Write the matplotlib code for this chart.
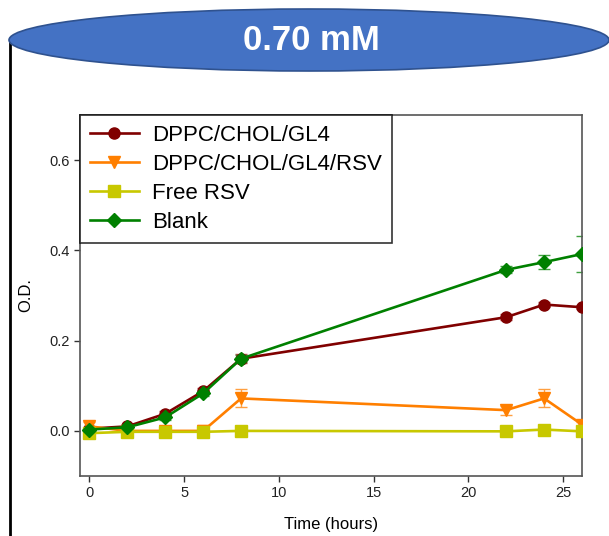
import matplotlib.pyplot as plt
from matplotlib.patches import Ellipse
from matplotlib.lines import Line2D

plt.rcParams['font.family'] = ['Liberation Sans', 'DejaVu Sans']

# data
time_h = [0, 2, 4, 6, 8, 22, 24, 26]
gl4 = [0.005, 0.010, 0.038, 0.088, 0.160, 0.252, 0.280, 0.274]
gl4_err = [0.004, 0.004, 0.006, 0.006, 0.010, 0.006, 0.006, 0.004]
gl4_rsv = [0.010, 0.000, 0.000, 0.000, 0.072, 0.046, 0.072, 0.014]
gl4_rsv_err = [0.010, 0.008, 0.004, 0.012, 0.020, 0.010, 0.020, 0.006]
free_rsv = [-0.005, -0.002, -0.002, -0.002, 0.000, -0.001, 0.003, -0.001]
free_rsv_err = [0.004, 0.003, 0.003, 0.003, 0.002, 0.002, 0.002, 0.002]
blank = [0.003, 0.008, 0.030, 0.083, 0.160, 0.357, 0.374, 0.392]
blank_err = [0.004, 0.004, 0.006, 0.006, 0.008, 0.008, 0.016, 0.040]

series = [
    ('DPPC/CHOL/GL4', gl4, gl4_err, '#800000', '#b05050', 'o'),
    ('DPPC/CHOL/GL4/RSV', gl4_rsv, gl4_rsv_err, '#ff7f00', '#ff9f40', 'v'),
    ('Free RSV', free_rsv, free_rsv_err, '#c8c800', '#d8d840', 's'),
    ('Blank', blank, blank_err, '#008000', '#40a040', 'D'),
]

fig = plt.figure(figsize=(6.09, 5.36), dpi=100)
ax = fig.add_axes([0.1314, 0.1119, 0.8243, 0.6735])

handles = []
for name, vals, errs, col, ecol, mk in series:
    ax.errorbar(time_h, vals, yerr=errs, fmt='none', ecolor=ecol,
                elinewidth=1.0, capsize=4, capthick=1.0, zorder=2)
    h, = ax.plot(time_h, vals, color=col, marker=mk, markersize=8 if mk != 'D' else 7.5,
                 linewidth=1.9, label=name, zorder=3)
    handles.append(h)

ax.set_xlim(-0.5, 26)
ax.set_ylim(-0.1, 0.7)
ax.set_xticks([0, 5, 10, 15, 20, 25])
ax.set_yticks([0.0, 0.2, 0.4, 0.6])
ax.set_yticklabels(['0.0', '0.2', '0.4', '0.6'])
ax.tick_params(direction='out', length=4, width=1, labelsize=10.5,
               colors='#333333', labelcolor='#222222')
for s in ax.spines.values():
    s.set_color('#555555')
    s.set_linewidth(1.2)

ax.set_xlabel('Time (hours)', fontsize=12, labelpad=12)
ax.set_ylabel('O.D.', fontsize=12)
ax.yaxis.set_label_coords(-0.093, 0.5)

leg = ax.legend(handles=handles, loc='upper left', fontsize=16,
                borderaxespad=0, fancybox=False, frameon=True,
                handlelength=2.2, handletextpad=0.6, labelspacing=0.36,
                borderpad=0.45)
leg.get_frame().set_edgecolor('black')
leg.get_frame().set_linewidth(1.2)

# decorative title banner and left rule
ell = Ellipse((309 / 609, 1 - 40 / 536), 600 / 609, 62 / 536,
              transform=fig.transFigure, facecolor='#4472c4',
              edgecolor='#2f528f', linewidth=1.2, zorder=5)
fig.patches.append(ell)
fig.text(311 / 609, 1 - 41 / 536, '0.70 mM', color='white', fontsize=25,
         fontweight='bold', ha='center', va='center', zorder=6)
fig.lines.append(Line2D([10 / 609, 10 / 609], [0, 1 - 40 / 536],
                        transform=fig.transFigure, color='black', linewidth=2))

fig.savefig('out.png', dpi=100)
